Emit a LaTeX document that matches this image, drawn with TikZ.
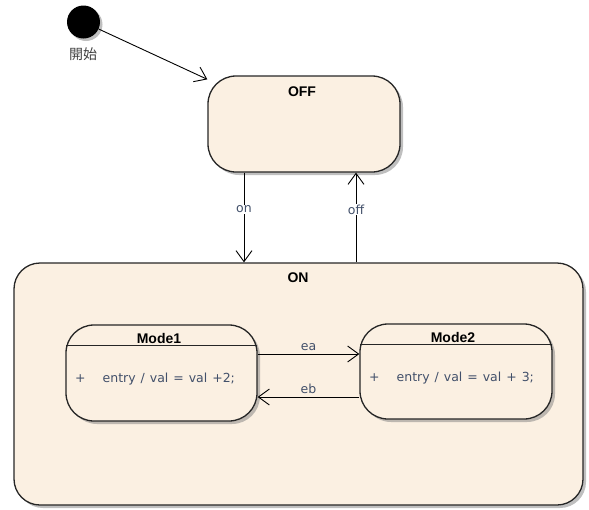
\documentclass[tikz,border=0pt]{standalone}
\usepackage{fontspec}
\setmainfont{DejaVu Sans}
\newfontfamily\headfont{Liberation Sans}
\newfontfamily\entryfont{DejaVu Sans}[WordSpace=1.25]
\newfontfamily\jpfont{Noto Sans CJK JP}
\usetikzlibrary{arrows.meta,shadows,positioning,calc}
\definecolor{statefill}{RGB}{251,240,226}
\definecolor{labeltext}{RGB}{66,80,106}
\begin{document}
\begin{tikzpicture}
	[x=1pt,y=-1pt,
	state/.style={rectangle,rounded corners=28pt,draw=black!85,line width=1.3pt,fill=statefill,inner sep=0pt,
		drop shadow={shadow xshift=3pt,shadow yshift=-3pt,opacity=.5}},
	title/.style={font=\headfont\bfseries\fontsize{14}{16}\selectfont,inner sep=0pt,anchor=base},
	body/.style={font=\entryfont\fontsize{12.5}{14}\selectfont,text=labeltext,inner sep=0pt,anchor=base west},
	trans/.style={font=\fontsize{12.5}{14}\selectfont,text=labeltext,inner sep=1pt},
	flow/.style={-{Straight Barb[length=11pt,width=16pt]},line width=.9pt}
	]
	\useasboundingbox (0,0) rectangle (589,509);

	\node[circle,fill=black,minimum size=33pt,inner sep=0pt,
		drop shadow={shadow xshift=2.5pt,shadow yshift=-2.5pt,opacity=.5}] (init) at (83.5,22){};
	\node[font=\jpfont\fontsize{14}{16}\selectfont,text=black!75] (initname) at (83,54){開始};

	\node[state,minimum width=192pt,minimum height=96pt] (off) at (304,124){};
	\node[title] (offname) at (302,96){OFF};

	\node[state,rounded corners=26pt,minimum width=569pt,minimum height=242pt] (on) at (298.5,384){};
	\node[title] (onname) at (298,282){ON};

	\node[state,minimum width=191pt,minimum height=96pt] (m1) at (161.5,373){};
	\node[title] (m1name) at (159,343){Mode1};
	\draw[line width=1.3pt,draw=black!85] ($(m1.north west)+(1,21)$) -- ($(m1.north east)+(-1,21)$);
	\node[body] (m1entry) at (75,382){+\hspace{17pt}entry / val = val +2;};

	\node[state,minimum width=192pt,minimum height=95pt] (m2) at (456,371.5){};
	\node[title] (m2name) at (453,342){Mode2};
	\draw[line width=1.3pt,draw=black!85] ($(m2.north west)+(1,21)$) -- ($(m2.north east)+(-1,21)$);
	\node[body] (m2entry) at (369,381){+\hspace{17pt}entry / val = val + 3;};

	\draw[flow] (init) -- ($(off.north west)+(0,4)$);
	\draw[flow] ([xshift=-60pt]off.south) -- node[trans,fill=white,pos=.41]{on} ([xshift=-60pt]off.south |- on.north);
	\draw[flow] ([xshift=52pt]off.south |- on.north) -- node[trans,fill=white,pos=.59]{off} ([xshift=52pt]off.south);
	\draw[flow] ([yshift=19pt]m1.east) -- node[trans,above=2pt]{ea} ([yshift=19pt]m1.east -| m2.west);
	\draw[flow] ([yshift=-25.5pt]m2.west) -- node[trans,above=2pt]{eb} ([yshift=-25.5pt]m2.west -| m1.east);
\end{tikzpicture}
\end{document}
